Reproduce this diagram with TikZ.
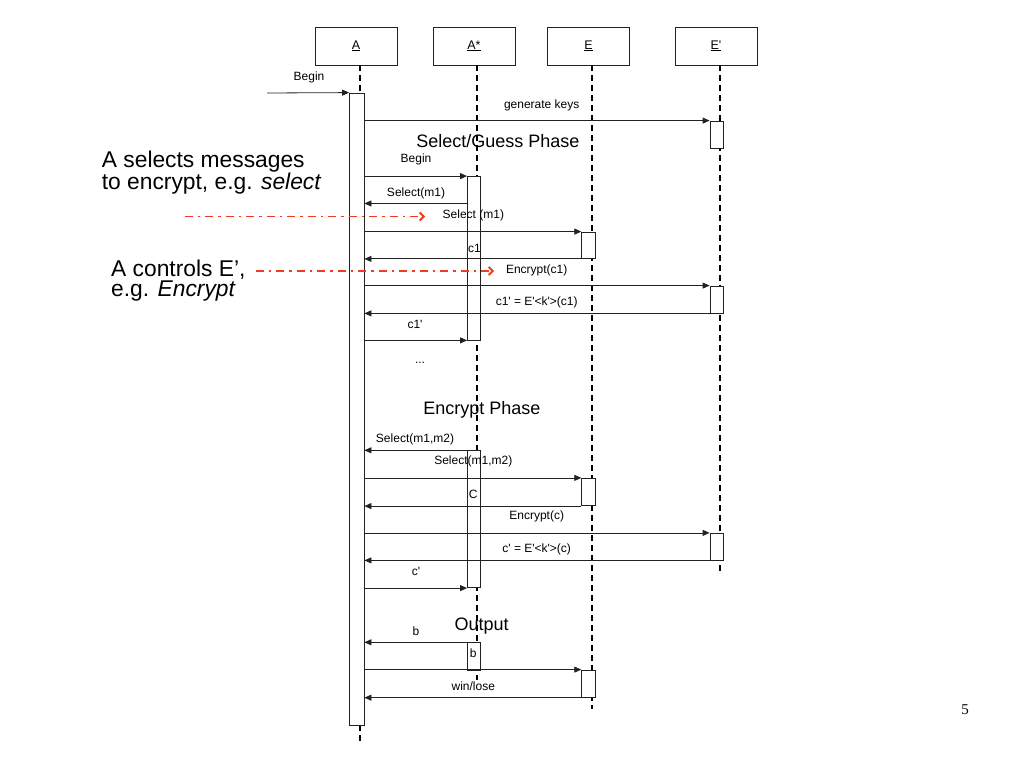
\documentclass[tikz,border=0pt]{standalone}
\usepackage{fontspec}
\setmainfont{Liberation Sans}
\newfontfamily\pagefont{Liberation Serif}
\usetikzlibrary{arrows.meta,calc}
\definecolor{ink}{HTML}{222222}
\definecolor{redarrow}{HTML}{F03C1E}
\newcommand{\sq}{\textquotesingle}
\begin{document}
\begin{tikzpicture}[x=1pt,y=-1pt,
  head/.style={draw=ink, line width=0.8pt, minimum width=82pt, minimum height=38pt, inner sep=0pt, font=\fontsize{12.5}{14}\selectfont},
  bar/.style={draw=ink, fill=white, line width=0.8pt, minimum width=14pt, inner sep=0pt},
  life/.style={draw=black, line width=1.8pt, dash pattern=on 6pt off 4pt},
  msg/.style={draw=ink, line width=0.8pt, -{Triangle[length=7pt,width=6pt]}},
  lbl/.style={font=\fontsize{12}{14}\selectfont, inner sep=0pt},
  phase/.style={font=\fontsize{18}{20}\selectfont, inner sep=0pt},
  note/.style={font=\fontsize{22.8}{20.5}\selectfont, inner sep=0pt, anchor=base west, align=left},
  hint/.style={draw=redarrow, line width=1.8pt, dash pattern=on 8pt off 5pt on 2.5pt off 5pt, -{Straight Barb[length=4pt,width=8pt]}}
]
\useasboundingbox (0,0) rectangle (1023,767);
\fill[white] (0,0) rectangle (1023,767);

% heads
\node[head] (hA)  at (356,46)   {\underline{A}};
\node[head] (hAs) at (474,46)   {\underline{A*}};
\node[head] (hE)  at (588.5,46) {\underline{E}};
\node[head] (hEp) at (716,46)   {\underline{E\sq}};

% lifelines
\coordinate (lA)  at (360,742);
\coordinate (lAs) at (477,680);
\coordinate (lE)  at (592,709);
\coordinate (lEp) at (720,571);
\draw[life] (hA.south -| lA) -- (lA);
\draw[life] (hAs.south -| lAs) -- (lAs);
\draw[life] (hE.south -| lE) -- (lE);
\draw[life] (hEp.south -| lEp) -- (lEp);

% activation bars
\node[bar, minimum width=14.5pt, minimum height=632pt] (Abar) at (356.75,409) {};
\node[bar, minimum width=13.2pt, minimum height=163.5pt] (As1) at (474.1,258.25) {};
\node[bar, minimum width=13.2pt, minimum height=137pt] (As2) at (474.1,519.2) {};
\node[bar, minimum width=13.2pt, minimum height=27.3pt] (As3) at (474.1,656.35) {};
\node[bar, minimum height=26.5pt] (E1) at (588.7,245.25) {};
\node[bar, minimum height=27.4pt] (E2) at (588.7,492) {};
\node[bar, minimum height=27.3pt] (E3) at (588.7,683.65) {};
\node[bar, minimum width=13.3pt, minimum height=27pt] (Ep1) at (716.65,134.5) {};
\node[bar, minimum width=13.3pt, minimum height=27pt] (Ep2) at (716.65,299.5) {};
\node[bar, minimum width=13.3pt, minimum height=26.7pt] (Ep3) at (716.65,546.65) {};

% messages
\coordinate (start) at (267,93);
\draw[msg] (start) -- (Abar.north west);
\draw[msg] (Abar.east |- Ep1.north) -- (Ep1.north west);
\draw[msg] (Abar.east |- As1.north) -- (As1.north west);
\coordinate (sel1) at (As1.west |- 0,203.5);
\draw[msg] (sel1) -- (Abar.east |- sel1);
\draw[msg] (Abar.east |- E1.north) -- (E1.north west);
\draw[msg] (E1.south west) -- (Abar.east |- E1.south);
\draw[msg] (Abar.east |- Ep2.north) -- (Ep2.north west);
\draw[msg] (Ep2.south west) -- (Abar.east |- Ep2.south);
\draw[msg] (Abar.east |- As1.south) -- (As1.south west);
\draw[msg] (As2.north east) -- (Abar.east |- As2.north);
\draw[msg] (Abar.east |- E2.north) -- (E2.north west);
\draw[msg] (E2.south west) -- (Abar.east |- E2.south);
\draw[msg] (Abar.east |- Ep3.north) -- (Ep3.north west);
\draw[msg] (Ep3.south west) -- (Abar.east |- Ep3.south);
\draw[msg] (Abar.east |- As2.south) -- (As2.south west);
\draw[msg] (As3.north west) -- (Abar.east |- As3.north);
\draw[msg] (Abar.east |- E3.north) -- (E3.north west);
\draw[msg] (E3.south west) -- (Abar.east |- E3.south);

% labels
\node[lbl] (t1) at (309,77) {Begin};
\node[lbl] (t2) at (541.7,105) {generate keys};
\node[phase] (p1) at (497.8,141.5) {Select/Guess Phase};
\node[lbl] (t3) at (416,159.6) {Begin};
\node[lbl] (t4) at (416,193) {Select(m1)};
\node[lbl] (t5) at (473.4,215) {Select (m1)};
\node[lbl] (t6) at (474.5,248) {c1};
\node[lbl] (t7) at (536.7,270) {Encrypt(c1)};
\node[lbl] (t8) at (536.7,302.7) {c1\sq{} = E\sq{}<k\sq{}>(c1)};
\node[lbl] (t9) at (415,324) {c1\sq};
\node[lbl] (t10) at (420,363) {...};
\node[phase] (p2) at (481.8,410) {Encrypt Phase};
\node[lbl] (t11) at (415,439.3) {Select(m1,m2)};
\node[lbl] (t12) at (473.3,461.7) {Select(m1,m2)};
\node[lbl] (t13) at (473.3,494.3) {C};
\node[lbl] (t14) at (536.7,516.7) {Encrypt(c)};
\node[lbl] (t15) at (536.7,549.3) {c\sq{} = E\sq{}<k\sq{}>(c)};
\node[lbl] (t16) at (416,571.7) {c\sq};
\node[phase] (p3) at (481.7,626) {Output};
\node[lbl] (t17) at (416,631.7) {b};
\node[lbl] (t18) at (473.3,653.3) {b};
\node[lbl] (t19) at (473.3,686.7) {win/lose};

% annotations (anchor base = baseline of the last line)
\node[note] (n1) at (101.7,189.5) {A selects messages\\to encrypt, e.g. \textit{select}};
\node[note] (n3) at (111,297) {A controls E’,\\e.g. \textit{Encrypt}};
\coordinate (r1s) at (184.6,216.5);
\coordinate (r1e) at (425,216.5);
\coordinate (r2s) at (255.5,271);
\coordinate (r2e) at (494,271);
\draw[hint] (r1s) -- (r1e);
\draw[hint] (r2s) -- (r2e);

\node[font=\pagefont\fontsize{15}{16}\selectfont, inner sep=0pt] (pg) at (965,710) {5};
\end{tikzpicture}
\end{document}
